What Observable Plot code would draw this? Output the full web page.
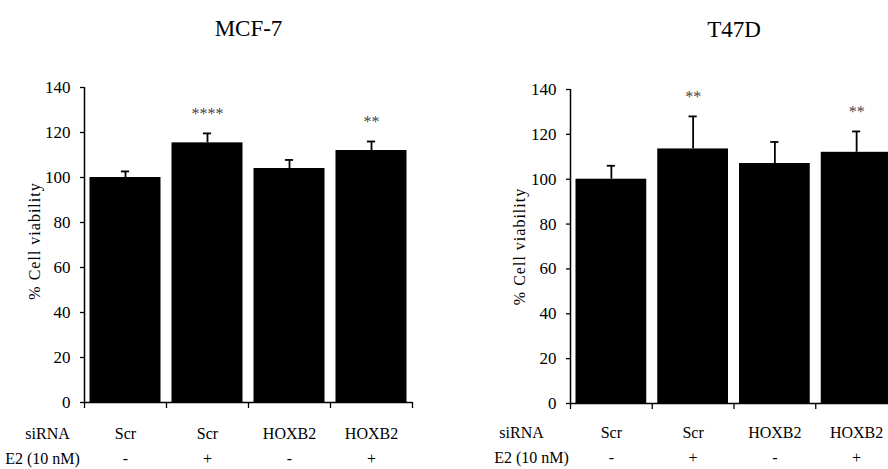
<!DOCTYPE html>
<html><head><meta charset="utf-8">
<script src="https://cdn.jsdelivr.net/npm/d3@7"></script>
<script src="https://cdn.jsdelivr.net/npm/@observablehq/plot@0.6"></script>
<style>
html,body{margin:0;padding:0;background:#fff;}
#wrap{position:relative;width:888px;height:469px;overflow:hidden;background:#fff;}
#wrap > svg{position:absolute;top:0;}
</style></head><body><div id="wrap"></div>
<script>
// ---- data ----
const siRNA = ["Scr", "Scr", "HOXB2", "HOXB2"];
const e2 = ["-", "+", "-", "+"];
const mcf7Mean = [100, 115.4, 104, 112];
const mcf7Err = [2.7, 4.2, 3.8, 4.0];
const mcf7Stars = ["", "****", "", "**"];
const t47dMean = [100, 113.5, 107, 112];
const t47dErr = [6.0, 14.5, 9.6, 9.3];
const t47dStars = ["", "**", "", "**"];
const yTicks = [0, 20, 40, 60, 80, 100, 120, 140];
const rowLabels = ["siRNA", "E2 (10 nM)"];
const yLabel = "% Cell viability";
const titles = ["MCF-7", "T47D"];

const FONT = "Liberation Serif";

function panel(cfg) {
  const rows = cfg.mean.map((m, i) => ({i, mean: m, err: cfg.err[i], top: m + cfg.err[i], star: cfg.stars[i], si: siRNA[i], e2: e2[i]}));
  const T = {fontFamily: FONT, lineAnchor: "middle"};
  const svg = Plot.plot({
    width: cfg.width, height: 469,
    marginLeft: cfg.ml, marginRight: cfg.mr, marginTop: cfg.mt, marginBottom: cfg.mb,
    style: {fontFamily: FONT, fontSize: "17px", background: "transparent", overflow: "visible"},
    x: {domain: [0, 4]},
    y: {domain: [0, 140]},
    marks: [
      Plot.rectY(rows, {x1: d => d.i, x2: d => d.i + 1, y: "mean", insetLeft: 5.5, insetRight: 5.5, fill: "black"}),
      Plot.ruleX(rows, {x: d => d.i + 0.5, y1: "mean", y2: "top", stroke: "black", strokeWidth: 1.8}),
      Plot.ruleY(rows, {y: "top", x1: d => d.i + 0.45, x2: d => d.i + 0.55, stroke: "black", strokeWidth: 1.8}),
      Plot.text(rows.filter(d => d.star), {...T, x: d => d.i + 0.5, y: "top", text: "star", dy: -20, fontSize: 16, fill: "#444"}),
      Plot.ruleX([0], {stroke: "black", strokeWidth: 1.5}),
      Plot.ruleY([0], {stroke: "black", strokeWidth: 1.5}),
      Plot.axisY({ticks: yTicks, tickSize: 4, tickPadding: 10, fontSize: 17, fontFamily: FONT, label: null, strokeWidth: 1.3}),
      Plot.axisX({ticks: [0, 1, 2, 3, 4], tickSize: 6, tickFormat: () => "", label: null, strokeWidth: 1.3}),
      Plot.text(rows, {...T, x: d => d.i + 0.5, text: "si", frameAnchor: "bottom", dy: cfg.row1, fontSize: 16}),
      Plot.text(rows, {...T, x: d => d.i + 0.5, text: "e2", frameAnchor: "bottom", dy: cfg.row2, fontSize: 16}),
      Plot.text([rowLabels[0]], {...T, text: d => d, frameAnchor: "bottom-left", dx: cfg.lab1dx, dy: cfg.row1, textAnchor: "middle", fontSize: 16}),
      Plot.text([rowLabels[1]], {...T, text: d => d, frameAnchor: "bottom-left", dx: cfg.lab2dx, dy: cfg.row2, textAnchor: "middle", fontSize: 16}),
      Plot.text([yLabel], {...T, text: d => d, frameAnchor: "left", textAnchor: "middle", rotate: -90, dx: cfg.ylabDx, dy: cfg.ylabDy, fontSize: 16}),
      Plot.text([cfg.title], {...T, text: d => d, frameAnchor: "top", textAnchor: "middle", dy: cfg.titleDy, fontSize: 23})
    ]
  });
  svg.style.left = cfg.left + "px";
  svg.querySelectorAll("text").forEach(t => {
    if (t.textContent === yLabel) t.setAttribute("letter-spacing", "1");
  });
  return svg;
}

const wrap = document.getElementById("wrap");
wrap.appendChild(panel({
  left: 0, width: 444, ml: 84, mr: 32, mt: 87, mb: 67,
  mean: mcf7Mean, err: mcf7Err, stars: mcf7Stars, title: titles[0],
  row1: 31, row2: 56, lab1dx: -37, lab2dx: -42, ylabDx: -50, ylabDy: -4, titleDy: -59
}));
wrap.appendChild(panel({
  left: 444, width: 470, ml: 126, mr: 17, mt: 89, mb: 66,
  mean: t47dMean, err: t47dErr, stars: t47dStars, title: titles[1],
  row1: 29, row2: 54, lab1dx: -49, lab2dx: -39, ylabDx: -51, ylabDy: 0, titleDy: -60
}));
</script></body></html>
